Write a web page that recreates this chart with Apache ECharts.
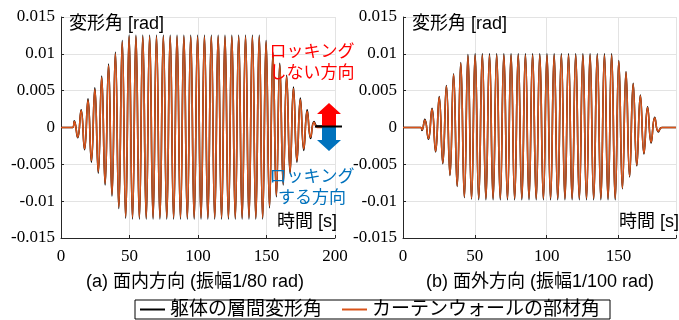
<!DOCTYPE html>
<html><head><meta charset="utf-8">
<script src="https://cdn.jsdelivr.net/npm/echarts@6/dist/echarts.min.js"></script>
<style>html,body{margin:0;padding:0;background:#fff}#c{width:679px;height:320px}</style>
</head><body><div id="c"></div>
<script>
// ---- data ----
const yTicks = [-0.015, -0.01, -0.005, 0, 0.005, 0.01, 0.015];
const xTicksLeft = [0, 50, 100, 150, 200];
const xTicksRight = [0, 50, 100, 150];
const seriesNames = ['躯体の層間変形角', 'カーテンウォールの部材角'];

const leftTime = [0, 8.5,
  9.7,12.2,14.7,17.2,19.7,22.2,24.7,27.2,29.7,32.2,34.7,37.2,39.7,42.2,44.7,47.2,
  49.7,52.2,54.7,57.2,59.7,62.2,64.7,67.2,69.7,72.2,
  74.7,77.2,79.7,82.2,84.7,87.2,89.7,92.2,94.7,97.2,
  99.7,102.2,104.7,107.2,109.7,112.2,114.7,117.2,119.7,122.2,
  124.7,127.2,129.7,132.2,134.7,137.2,139.7,142.2,144.7,147.2,
  149.7,152.2,154.7,157.2,159.7,162.2,164.7,167.2,169.7,172.2,174.7,177.2,179.7,182.2,184.7,
  187.2, 200];
const leftFrame = [0, 0,
  0.0009,-0.0014,0.0024,-0.0030,0.0039,-0.0047,0.0054,-0.0062,0.0070,-0.0078,0.0086,-0.0093,0.0102,-0.0110,0.0118,-0.0123,
  0.0125,-0.0124,0.0125,-0.0124,0.0125,-0.0124,0.0125,-0.0124,0.0125,-0.0124,
  0.0125,-0.0124,0.0125,-0.0124,0.0125,-0.0124,0.0125,-0.0124,0.0125,-0.0124,
  0.0125,-0.0124,0.0125,-0.0124,0.0125,-0.0124,0.0125,-0.0124,0.0125,-0.0124,
  0.0125,-0.0124,0.0125,-0.0124,0.0125,-0.0124,0.0125,-0.0124,0.0125,-0.0124,
  0.0118,-0.0109,0.0102,-0.0094,0.0087,-0.0078,0.0071,-0.0062,0.0055,-0.0047,0.0040,-0.0031,0.0024,-0.0015,0.0008,
  0.0002, 0.0002];
const leftCW = [0, 0,
  0.0008,-0.0013,0.0023,-0.0029,0.0037,-0.0045,0.0052,-0.0060,0.0068,-0.0076,0.0084,-0.0091,0.0100,-0.0108,0.0116,-0.0121,
  0.0123,-0.0122,0.0123,-0.0122,0.0123,-0.0122,0.0123,-0.0122,0.0123,-0.0122,
  0.0123,-0.0122,0.0123,-0.0122,0.0123,-0.0122,0.0123,-0.0122,0.0123,-0.0122,
  0.0123,-0.0122,0.0123,-0.0122,0.0123,-0.0122,0.0123,-0.0122,0.0123,-0.0122,
  0.0123,-0.0122,0.0123,-0.0122,0.0123,-0.0122,0.0123,-0.0122,0.0123,-0.0122,
  0.0116,-0.0107,0.0100,-0.0092,0.0085,-0.0076,0.0069,-0.0060,0.0053,-0.0045,0.0038,-0.0029,0.0022,-0.0013,0.0007,
  0, 0];

const rightTime = [0, 12.5, 13.2,
  15.2,17.7,20.2,22.7,25.2,27.7,30.2,32.7,35.2,37.7,40.2,42.7,45.2,47.7,
  50.2,52.7,55.2,57.7,60.2,62.7,65.2,67.7,70.2,72.7,
  75.2,77.7,80.2,82.7,85.2,87.7,90.2,92.7,95.2,97.7,
  100.2,102.7,105.2,107.7,110.2,112.7,115.2,117.7,120.2,122.7,
  125.2,127.7,130.2,132.7,135.2,137.7,140.2,142.7,145.2,147.7,
  150.2,152.7,155.2,157.7,160.2,162.7,165.2,167.7,170.2,172.7,175.2,177.7,
  180.2, 190];
const rightFrame = [0, 0, -0.0004,
  0.0011,-0.0016,0.0026,-0.0033,0.0042,-0.0049,0.0057,-0.0065,0.0073,-0.0080,0.0088,-0.0095,0.0099,-0.0097,
  0.0100,-0.0098,0.0100,-0.0098,0.0100,-0.0098,0.0100,-0.0098,0.0100,-0.0098,
  0.0100,-0.0098,0.0100,-0.0098,0.0100,-0.0098,0.0100,-0.0098,0.0100,-0.0098,
  0.0100,-0.0098,0.0100,-0.0098,0.0100,-0.0098,0.0100,-0.0098,0.0100,-0.0098,
  0.0100,-0.0098,0.0100,-0.0098,0.0100,-0.0098,0.0100,-0.0098,0.0100,-0.0098,
  0.0091,-0.0083,0.0076,-0.0067,0.0060,-0.0052,0.0044,-0.0036,0.0028,-0.0021,0.0014,-0.0006,
  0, 0];
const rightCW = [0, 0, -0.0003,
  0.0010,-0.0015,0.0025,-0.0032,0.0041,-0.0048,0.0056,-0.0064,0.0072,-0.0079,0.0087,-0.0094,0.0097,-0.0096,
  0.0098,-0.0096,0.0098,-0.0096,0.0098,-0.0096,0.0098,-0.0096,0.0098,-0.0096,
  0.0098,-0.0096,0.0098,-0.0096,0.0098,-0.0096,0.0098,-0.0096,0.0098,-0.0096,
  0.0098,-0.0096,0.0098,-0.0096,0.0098,-0.0096,0.0098,-0.0096,0.0098,-0.0096,
  0.0098,-0.0096,0.0098,-0.0096,0.0098,-0.0096,0.0098,-0.0096,0.0098,-0.0096,
  0.0090,-0.0082,0.0075,-0.0066,0.0059,-0.0051,0.0043,-0.0035,0.0027,-0.0020,0.0013,-0.0005,
  0, 0];

// ---- chart ----
const SANS = "'Liberation Sans', 'Noto Sans CJK JP', sans-serif";
const SERIF = "'Liberation Serif', 'DejaVu Serif', serif";
const AX = '#262626';
const BLACK = '#000000';
const ORANGE = '#D95319';

function pairs(t, v) { return t.map((x, i) => [x, v[i]]); }

function xAxis(idx, max, ticks) {
  return {
    type: 'value', gridIndex: idx, min: 0, max: max, interval: 50,
    axisLine: { show: true, onZero: false, lineStyle: { color: AX, width: 1 } },
    axisTick: { show: true, inside: true, length: 3, lineStyle: { color: AX } },
    splitLine: { show: true, lineStyle: { color: '#e3e3e3', width: 1 } },
    axisLabel: {
      color: '#000', fontFamily: SERIF, fontSize: 17, margin: 10,
      formatter: v => (ticks.indexOf(v) >= 0 ? String(v) : '')
    }
  };
}
function yAxis(idx) {
  return {
    type: 'value', gridIndex: idx, min: -0.015, max: 0.015, interval: 0.005,
    axisLine: { show: true, onZero: false, lineStyle: { color: AX, width: 1 } },
    axisTick: { show: true, inside: true, length: 3, lineStyle: { color: AX } },
    splitLine: { show: true, lineStyle: { color: '#e3e3e3', width: 1 } },
    axisLabel: {
      color: '#000', fontFamily: SERIF, fontSize: 17, margin: 6,
      formatter: v => {
        const r = Math.round(v * 1000) / 1000;
        const hit = yTicks.find(t => Math.abs(t - r) < 1e-9);
        return hit === undefined ? '' : String(hit);
      }
    }
  };
}
function line(name, xi, data, color) {
  return {
    name: name, type: 'line', xAxisIndex: xi, yAxisIndex: xi, data: data,
    showSymbol: false, smooth: 0.5, clip: true,
    lineStyle: { color: color, width: 1.6 }, itemStyle: { color: color },
    emphasis: { disabled: true }
  };
}
function txt(text, x, y, color, size, align) {
  return { type: 'text', x: x, y: y, silent: true, z: 100,
    style: { text: text, fill: color, fontSize: size, fontFamily: SANS,
      align: align || 'left', verticalAlign: 'middle' } };
}

const chart = echarts.init(document.getElementById('c'), null, { renderer: 'canvas' });
chart.setOption({
  animation: false,
  backgroundColor: '#fff',
  grid: [
    { left: 61, top: 17, width: 274, height: 221 },
    { left: 403, top: 17, width: 274, height: 221 }
  ],
  xAxis: [xAxis(0, 200, xTicksLeft), xAxis(1, 190, xTicksRight)],
  yAxis: [yAxis(0), yAxis(1)],
  legend: {
    left: 135, top: 300, orient: 'horizontal',
    data: seriesNames, icon: 'rect', itemWidth: 25, itemHeight: 2, itemGap: 20,
    borderColor: '#000', borderWidth: 1, padding: [0, 10, 0, 5],
    textStyle: { fontSize: 19, fontFamily: SANS, color: '#000' },
    selectedMode: false
  },
  series: [
    line(seriesNames[0], 0, pairs(leftTime, leftFrame), BLACK),
    line(seriesNames[1], 0, pairs(leftTime, leftCW), ORANGE),
    line(seriesNames[0], 1, pairs(rightTime, rightFrame), BLACK),
    line(seriesNames[1], 1, pairs(rightTime, rightCW), ORANGE)
  ],
  graphic: [
    txt('変形角 [rad]', 69, 24, '#000', 18),
    txt('変形角 [rad]', 412, 24, '#000', 18),
    txt('時間 [s]', 337, 222, '#000', 18, 'right'),
    txt('時間 [s]', 679, 222, '#000', 18, 'right'),
    txt('ロッキング', 312, 52, '#FF0000', 17, 'center'),
    txt('しない方向', 312, 73, '#FF0000', 17, 'center'),
    txt('ロッキング', 312, 177, '#0072BD', 17, 'center'),
    txt('する方向', 312, 198, '#0072BD', 17, 'center'),
    txt('(a) 面内方向 (振幅1/80 rad)', 195, 282, '#000', 18, 'center'),
    txt('(b) 面外方向 (振幅1/100 rad)', 540, 282, '#000', 18, 'center'),
    { type: 'polygon', silent: true, z: 90,
      shape: { points: [[317,114],[329,103],[341,114],[336,114],[336,126],[322,126],[322,114]] },
      style: { fill: '#FF0000' } },
    { type: 'polygon', silent: true, z: 90,
      shape: { points: [[322,127],[336,127],[336,140],[341,140],[329,151],[317,140],[322,140]] },
      style: { fill: '#0072BD' } },
    { type: 'line', silent: true, z: 95,
      shape: { x1: 315, y1: 126.5, x2: 342, y2: 126.5 },
      style: { stroke: '#000', lineWidth: 2 } }
  ]
});
</script>
</body></html>
